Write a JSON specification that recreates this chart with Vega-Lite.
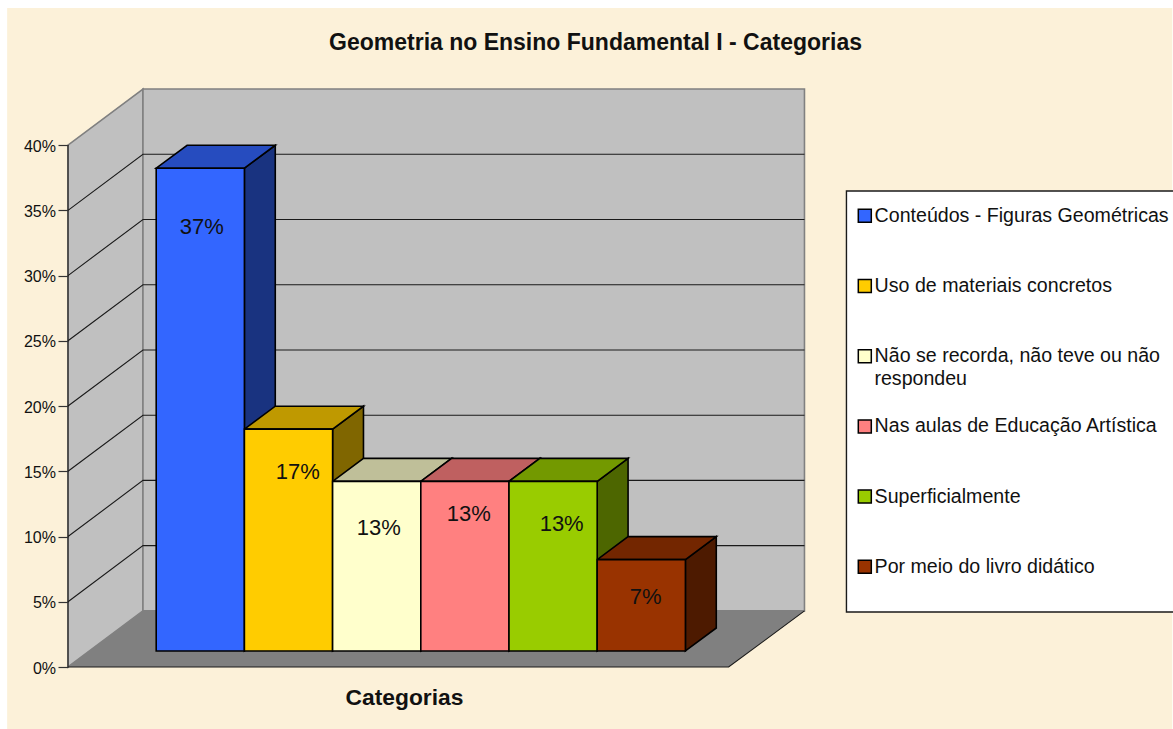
{"$schema":"https://vega.github.io/schema/vega-lite/v6.json","width":737,"height":578,"autosize":{"type":"none"},"padding":{"left":68,"top":89,"right":368,"bottom":62},"background":"#ffffff","config":{"font":"Liberation Sans","view":{"stroke":null}},"title":{"text":"Geometria no Ensino Fundamental I - Categorias","font":"Liberation Sans","fontSize":23,"fontWeight":"bold","color":"#111111","anchor":"middle","frame":"group","dx":159,"dy":51},"datasets":{"fundo":[{"x":-1.69,"x2":11.52,"y":-4.75,"y2":50.5}],"caixa":[{"x":7.826,"x2":11.54,"y":4.22,"y2":36.48}],"paredes":[{"face":"esquerda","x":-1,"y":0,"y2":40},{"face":"esquerda","x":-0.15,"y":4.3,"y2":44.3},{"face":"fundo","x":-0.15,"y":4.3,"y2":44.3},{"face":"fundo","x":7.35,"y":4.3,"y2":44.3}],"piso":[{"x":-1,"y":0,"y2":0},{"x":-0.15,"y":0,"y2":4.3},{"x":6.49,"y":0,"y2":4.3},{"x":7.35,"y":4.3,"y2":4.3}],"grade":[{"linha":"5","x":-1,"y":5},{"linha":"5","x":-0.15,"y":9.3},{"linha":"5","x":7.35,"y":9.3},{"linha":"10","x":-1,"y":10},{"linha":"10","x":-0.15,"y":14.3},{"linha":"10","x":7.35,"y":14.3},{"linha":"15","x":-1,"y":15},{"linha":"15","x":-0.15,"y":19.3},{"linha":"15","x":7.35,"y":19.3},{"linha":"20","x":-1,"y":20},{"linha":"20","x":-0.15,"y":24.3},{"linha":"20","x":7.35,"y":24.3},{"linha":"25","x":-1,"y":25},{"linha":"25","x":-0.15,"y":29.3},{"linha":"25","x":7.35,"y":29.3},{"linha":"30","x":-1,"y":30},{"linha":"30","x":-0.15,"y":34.3},{"linha":"30","x":7.35,"y":34.3},{"linha":"35","x":-1,"y":35},{"linha":"35","x":-0.15,"y":39.3},{"linha":"35","x":7.35,"y":39.3},{"linha":"eixo","x":-1,"y":0},{"linha":"eixo","x":-1,"y":40},{"linha":"borda","x":-1,"y":0},{"linha":"borda","x":6.49,"y":0},{"linha":"borda","x":7.35,"y":4.3}],"faces":[{"k":"lado1","x":1,"y":1.23,"y2":38.23},{"k":"lado1","x":1.35,"y":2.99,"y2":39.99},{"k":"topo1","x":0,"y":38.23,"y2":38.23},{"k":"topo1","x":0.35,"y":38.23,"y2":39.99},{"k":"topo1","x":1,"y":38.23,"y2":39.99},{"k":"topo1","x":1.35,"y":39.99,"y2":39.99},{"k":"lado2","x":2,"y":1.23,"y2":18.23},{"k":"lado2","x":2.35,"y":2.99,"y2":19.99},{"k":"topo2","x":1,"y":18.23,"y2":18.23},{"k":"topo2","x":1.35,"y":18.23,"y2":19.99},{"k":"topo2","x":2,"y":18.23,"y2":19.99},{"k":"topo2","x":2.35,"y":19.99,"y2":19.99},{"k":"lado3","x":3,"y":1.23,"y2":14.23},{"k":"lado3","x":3.35,"y":2.99,"y2":15.99},{"k":"topo3","x":2,"y":14.23,"y2":14.23},{"k":"topo3","x":2.35,"y":14.23,"y2":15.99},{"k":"topo3","x":3,"y":14.23,"y2":15.99},{"k":"topo3","x":3.35,"y":15.99,"y2":15.99},{"k":"lado4","x":4,"y":1.23,"y2":14.23},{"k":"lado4","x":4.35,"y":2.99,"y2":15.99},{"k":"topo4","x":3,"y":14.23,"y2":14.23},{"k":"topo4","x":3.35,"y":14.23,"y2":15.99},{"k":"topo4","x":4,"y":14.23,"y2":15.99},{"k":"topo4","x":4.35,"y":15.99,"y2":15.99},{"k":"lado5","x":5,"y":1.23,"y2":14.23},{"k":"lado5","x":5.35,"y":2.99,"y2":15.99},{"k":"topo5","x":4,"y":14.23,"y2":14.23},{"k":"topo5","x":4.35,"y":14.23,"y2":15.99},{"k":"topo5","x":5,"y":14.23,"y2":15.99},{"k":"topo5","x":5.35,"y":15.99,"y2":15.99},{"k":"lado6","x":6,"y":1.23,"y2":8.23},{"k":"lado6","x":6.35,"y":2.99,"y2":9.99},{"k":"topo6","x":5,"y":8.23,"y2":8.23},{"k":"topo6","x":5.35,"y":8.23,"y2":9.99},{"k":"topo6","x":6,"y":8.23,"y2":9.99},{"k":"topo6","x":6.35,"y":9.99,"y2":9.99}],"barras":[{"categoria":"Conteúdos - Figuras Geométricas","valor":37,"x":0,"x2":1,"y":1.23,"y2":38.23},{"categoria":"Uso de materiais concretos","valor":17,"x":1,"x2":2,"y":1.23,"y2":18.23},{"categoria":"Não se recorda, não teve ou não respondeu","valor":13,"x":2,"x2":3,"y":1.23,"y2":14.23},{"categoria":"Nas aulas de Educação Artística","valor":13,"x":3,"x2":4,"y":1.23,"y2":14.23},{"categoria":"Superficialmente","valor":13,"x":4,"x2":5,"y":1.23,"y2":14.23},{"categoria":"Por meio do livro didático","valor":7,"x":5,"x2":6,"y":1.23,"y2":8.23}],"rotulos":[{"rotulo":"37%","x":0.518,"y":33.72},{"rotulo":"17%","x":1.606,"y":14.95},{"rotulo":"13%","x":2.524,"y":10.65},{"rotulo":"13%","x":3.543,"y":11.73},{"rotulo":"13%","x":4.597,"y":10.96},{"rotulo":"7%","x":5.549,"y":5.37}],"continuacao":[{"texto":"respondeu","x":8.143,"y":22.08}]},"encoding":{"x":{"field":"x","type":"quantitative","scale":{"domain":[-1,7.356],"nice":false,"zero":false},"axis":{"labels":false,"ticks":false,"domain":false,"grid":false,"title":"Categorias","titleFont":"Liberation Sans","titleFontSize":22.8,"titleFontWeight":"bold","titleColor":"#111111","titleX":336,"titleY":30,"titleBaseline":"middle","titleAlign":"center","zindex":1}},"y":{"field":"y","type":"quantitative","scale":{"domain":[0,44.3],"nice":false,"zero":false},"axis":{"values":[0,5,10,15,20,25,30,35,40],"labelExpr":"datum.value + '%'","domain":false,"grid":false,"title":null,"tickSize":10,"tickColor":"#333333","tickWidth":1.2,"labelFont":"Liberation Sans","labelFontSize":16,"labelColor":"#111111","labelPadding":2.5,"labelOffset":1,"zindex":1}}},"layer":[{"data":{"name":"fundo"},"mark":{"type":"rect","fill":"#FCF1D9","clip":false},"encoding":{"x2":{"field":"x2"},"y2":{"field":"y2"}}},{"data":{"name":"paredes"},"mark":{"type":"area","fill":"#C0C0C0","stroke":"#808080","strokeWidth":1.6,"opacity":1},"encoding":{"y2":{"field":"y2"},"detail":{"field":"face"}}},{"data":{"name":"piso"},"mark":{"type":"area","fill":"#808080","opacity":1},"encoding":{"y2":{"field":"y2"}}},{"data":{"name":"grade"},"mark":{"type":"line","stroke":"#1a1a1a","strokeWidth":1.1,"interpolate":"linear"},"encoding":{"detail":{"field":"linha"}}},{"data":{"name":"faces"},"mark":{"type":"area","stroke":"#000000","strokeWidth":1.6,"opacity":1},"encoding":{"y2":{"field":"y2"},"color":{"field":"k","type":"nominal","legend":null,"scale":{"domain":["lado1","topo1","lado2","topo2","lado3","topo3","lado4","topo4","lado5","topo5","lado6","topo6"],"range":["#193380","#264CBF","#806600","#BF9900","#808066","#BFBF99","#804040","#BF6060","#4D6600","#739900","#4D1A00","#732600"]}}}},{"data":{"name":"barras"},"mark":{"type":"rect","stroke":"#000000","strokeWidth":1.6,"opacity":1},"encoding":{"x2":{"field":"x2"},"y2":{"field":"y2"},"color":{"field":"categoria","type":"nominal","scale":{"domain":["Conteúdos - Figuras Geométricas","Uso de materiais concretos","Não se recorda, não teve ou não respondeu","Nas aulas de Educação Artística","Superficialmente","Por meio do livro didático"],"range":["#3366FF","#FFCC00","#FFFFCC","#FF8080","#99CC00","#993300"]},"legend":{"orient":"none","legendX":787,"legendY":117,"title":null,"padding":0,"symbolType":"square","symbolSize":169,"symbolStrokeColor":"#000000","symbolStrokeWidth":1.5,"symbolOpacity":1,"labelFont":"Liberation Sans","labelFontSize":19.6,"labelColor":"#111111","labelLimit":400,"labelOffset":0,"rowPadding":49.2,"labelExpr":"replace(datum.label, ' respondeu', '')","zindex":2}}}},{"data":{"name":"rotulos"},"mark":{"type":"text","font":"Liberation Sans","fontSize":22,"color":"#111111","align":"center","baseline":"middle"},"encoding":{"text":{"field":"rotulo"}}},{"data":{"name":"caixa"},"mark":{"type":"rect","fill":"#FFFFFF","stroke":"#1a1a1a","strokeWidth":1.4,"clip":false},"encoding":{"x2":{"field":"x2"},"y2":{"field":"y2"}}},{"data":{"name":"continuacao"},"mark":{"type":"text","font":"Liberation Sans","fontSize":19.6,"color":"#111111","align":"left","baseline":"middle","clip":false},"encoding":{"text":{"field":"texto"}}}],"resolve":{"scale":{"color":"independent"}}}
